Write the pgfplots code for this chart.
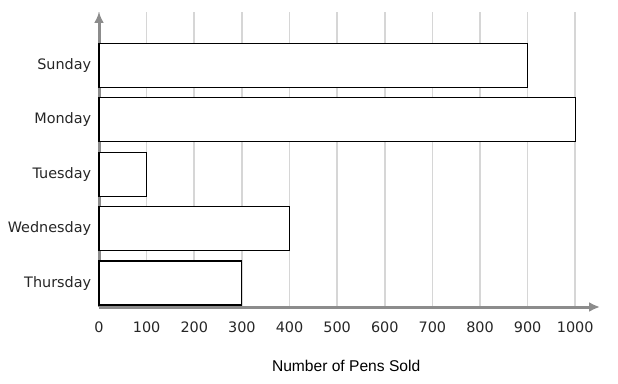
\documentclass[border=0pt]{standalone}
\usepackage{pgfplots}
\pgfplotsset{compat=1.18}
\usetikzlibrary{arrows.meta}
\usepackage{fontspec}
\setmainfont{DejaVu Sans}
\newfontfamily\labelfont{Liberation Sans}
\definecolor{axgray}{HTML}{8C8C8C}
\definecolor{gridgray}{HTML}{D6D6D6}
\begin{document}
\begin{tikzpicture}
\useasboundingbox (0,0) rectangle (618pt,383pt);
\begin{axis}[
  at={(99pt,76pt)}, anchor=south west,
  scale only axis, width=501pt, height=295pt,
  xmin=0, xmax=1052, ymin=-0.44, ymax=4.98,
  axis x line=bottom, axis y line=left,
  every outer x axis line/.append style={draw=axgray, line width=3pt, -{Latex[length=11pt,width=10pt]}},
  every outer y axis line/.append style={draw=axgray, line width=3pt, -{Latex[length=11pt,width=10pt]}},
  xtick={0,100,...,1000},
  ytick={0,1,2,3,4},
  yticklabels={Thursday,Wednesday,Tuesday,Monday,Sunday},
  tick style={draw=none},
  xmajorgrids, major grid style={draw=gridgray, line width=1.6pt},
  ticklabel style={font=\fontsize{14.4}{16}\selectfont, text=black!85},
  xticklabel style={yshift=-9pt},
  yticklabel style={xshift=0pt},
  /pgf/number format/assume math mode=true,
  /pgf/number format/1000 sep={},
  xlabel={\labelfont\fontsize{15.6}{17}\selectfont Number of Pens Sold},
  xlabel style={at={(rel axis cs:0.4933,0)}, anchor=center, yshift=-59pt},
  xbar, bar width=44pt,
  clip=false,
]
\addplot[draw=black, fill=white, line width=1.2pt] coordinates {
  (300,0) (400,1) (100,2) (1000,3) (900,4)
};
\end{axis}
\end{tikzpicture}
\end{document}
